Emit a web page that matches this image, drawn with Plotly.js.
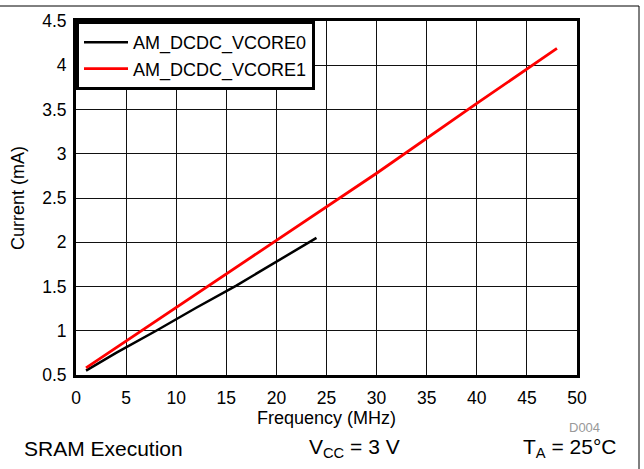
<!DOCTYPE html>
<html>
<head>
<meta charset="utf-8">
<script src="https://cdn.plot.ly/plotly-3.0.1.min.js"></script>
<style>
html, body { margin: 0; padding: 0; background: #fff; }
#chart { width: 644px; height: 469px; }
</style>
</head>
<body>
<div id="chart"></div>
<script>
// Data
const seriesNames = ["AM_DCDC_VCORE0", "AM_DCDC_VCORE1"];
const freqVcore0 = [1, 4, 8, 12, 16, 20, 24];
const currVcore0 = [0.55, 0.75, 1.0, 1.26, 1.51, 1.78, 2.05];
const freqVcore1 = [1, 10, 20, 30, 40, 48];
const currVcore1 = [0.58, 1.26, 2.02, 2.78, 3.57, 4.19];
const xTickVals = [0, 5, 10, 15, 20, 25, 30, 35, 40, 45, 50];
const yTickVals = [0.5, 1, 1.5, 2, 2.5, 3, 3.5, 4, 4.5];
const yTickText = ["0.5", "1", "1.5", "2", "2.5", "3", "3.5", "4", "4.5"];

const FONT = "Arial, 'Liberation Sans', sans-serif";

const traces = [
  { x: freqVcore0, y: currVcore0, name: seriesNames[0], mode: "lines",
    line: { color: "#000000", width: 2.5 } },
  { x: freqVcore1, y: currVcore1, name: seriesNames[1], mode: "lines",
    line: { color: "#ff0000", width: 2.8 } }
];

// plot area in pixels: left 76, right 577, top 21, bottom 375
const L = 76, R = 577, T = 21, B = 375;
const px = v => (v - L) / (R - L);
const py = v => (B - v) / (B - T);

const layout = {
  width: 644, height: 469,
  margin: { l: L, r: 644 - R, t: T, b: 469 - B, pad: 0 },
  paper_bgcolor: "#ffffff", plot_bgcolor: "#ffffff",
  font: { family: FONT, size: 17, color: "#000" },
  showlegend: true,
  legend: {
    x: 0, y: 1, xanchor: "left", yanchor: "top",
    bgcolor: "#ffffff", bordercolor: "#000", borderwidth: 3,
    font: { family: FONT, size: 18, color: "#000" },
    itemwidth: 44, tracegroupgap: 0
  },
  xaxis: {
    range: [0, 50], tickvals: xTickVals, ticktext: xTickVals.map(String),
    showgrid: true, gridcolor: "#111", gridwidth: 1,
    showline: true, linecolor: "#000", linewidth: 3, mirror: true,
    ticks: "", zeroline: false, fixedrange: true,
    tickfont: { family: FONT, size: 17.5 },
    ticklabelstandoff: 5,
    title: { text: "Frequency (MHz)", font: { family: FONT, size: 18 }, standoff: 2 }
  },
  yaxis: {
    range: [0.5, 4.5], tickvals: yTickVals, ticktext: yTickText,
    showgrid: true, gridcolor: "#111", gridwidth: 1,
    showline: true, linecolor: "#000", linewidth: 3, mirror: true,
    ticks: "", zeroline: false, fixedrange: true,
    tickfont: { family: FONT, size: 17.5 },
    ticklabelstandoff: 3,
    title: { text: "Current (mA)", font: { family: FONT, size: 18 }, standoff: 13 }
  },
  shapes: [
    { type: "line", xref: "paper", yref: "paper",
      x0: px(-5), x1: px(639), y0: py(6), y1: py(6),
      line: { color: "#000", width: 1 } },
    { type: "line", xref: "paper", yref: "paper",
      x0: px(639), x1: px(639), y0: py(6), y1: py(475),
      line: { color: "#000", width: 1 } }
  ],
  annotations: [
    { text: "SRAM Execution", xref: "paper", yref: "paper",
      x: px(22), y: py(448), xanchor: "left", yanchor: "middle",
      showarrow: false, font: { family: FONT, size: 21, color: "#000" } },
    { text: "V<sub>CC</sub> = 3 V", xref: "paper", yref: "paper",
      x: px(307), y: py(448), xanchor: "left", yanchor: "middle",
      showarrow: false, font: { family: FONT, size: 21, color: "#000" } },
    { text: "T<sub>A</sub> = 25°C", xref: "paper", yref: "paper",
      x: px(618), y: py(448), xanchor: "right", yanchor: "middle",
      showarrow: false, font: { family: FONT, size: 21, color: "#000" } },
    { text: "D004", xref: "paper", yref: "paper",
      x: px(602), y: py(427.5), xanchor: "right", yanchor: "middle",
      showarrow: false, font: { family: FONT, size: 13, color: "#999999" } }
  ]
};

Plotly.newPlot("chart", traces, layout, { displayModeBar: false, staticPlot: true });
</script>
</body>
</html>
